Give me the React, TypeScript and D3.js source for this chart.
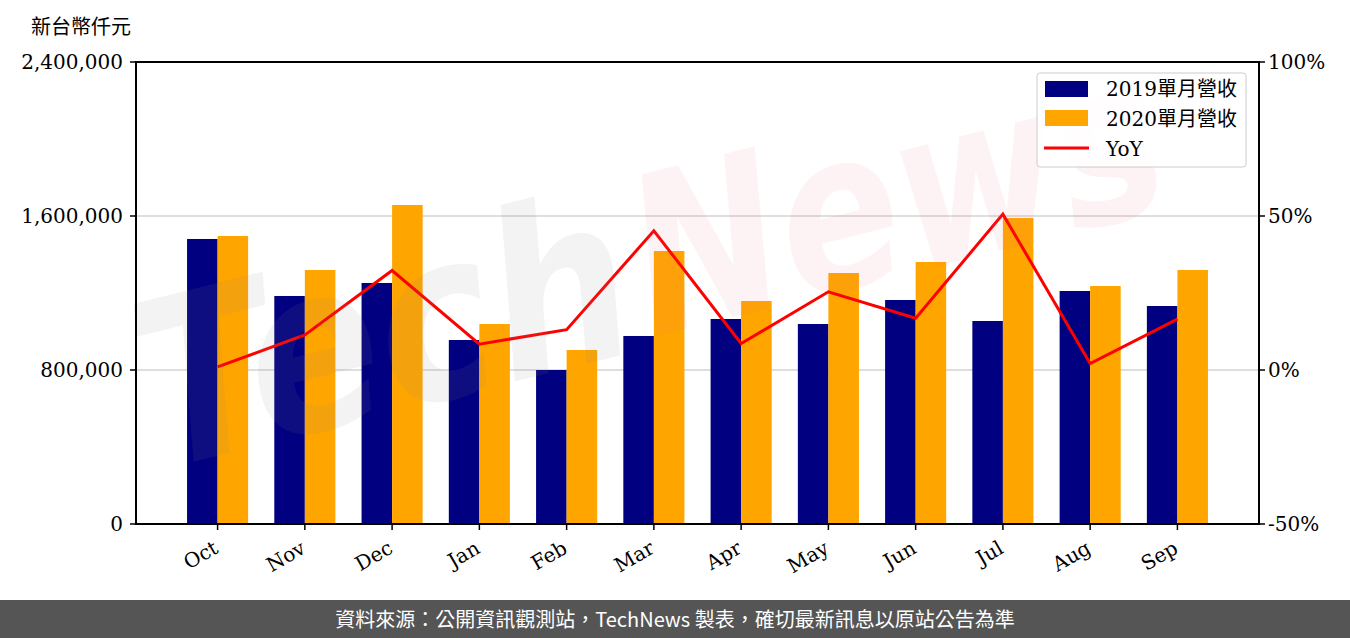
import React from "react";
import * as d3 from "d3";

const months = ["Oct", "Nov", "Dec", "Jan", "Feb", "Mar", "Apr", "May", "Jun", "Jul", "Aug", "Sep"];
const rev2019 = [1480600, 1184500, 1252000, 955900, 800000, 976700, 1065000, 1039000, 1163700, 1054600, 1210400, 1132500];
const rev2020 = [1496100, 1319500, 1657200, 1039000, 903900, 1418200, 1158500, 1303900, 1361100, 1589700, 1236400, 1319500];
const yoy = [1.0, 11.4, 32.3, 8.4, 13.1, 45.2, 8.6, 25.4, 16.8, 50.6, 2.1, 16.5];
const leftTicks = [0, 800000, 1600000, 2400000];
const rightTicks = [-50, 0, 50, 100];
const legendLabels = ["2019單月營收", "2020單月營收", "YoY"];

const W = 1350, H = 638;
const L = 136, R = 1259, T = 62, B = 524;
const serif = "'DejaVu Serif', 'Noto Sans CJK TC', serif";

export default function App() {
  const x = d3.scaleLinear().domain([-0.935, 11.935]).range([L, R]);
  const yL = d3.scaleLinear().domain([0, 2400000]).range([B, T]);
  const yR = d3.scaleLinear().domain([-50, 100]).range([B, T]);
  const bw = 0.35;
  const line = d3.line<number>().x((_, i) => x(i)).y((d) => yR(d));
  const fmt = d3.format(",");

  return (
    <svg width={W} height={H} style={{ position: "absolute", left: 0, top: 0, background: "#fff" }}>
      <text x={31} y={34} fontSize={20} fontFamily="'Noto Sans CJK TC', sans-serif" fill="#000">新台幣仟元</text>
      {/* grid */}
      {leftTicks.slice(1, 3).map((t) => (
        <line key={t} x1={L} x2={R} y1={yL(t)} y2={yL(t)} stroke="#d3d3d3" strokeWidth={1.5} />
      ))}
      {/* bars */}
      {rev2019.map((v, i) => (
        <rect key={"a" + i} x={x(i - bw)} width={x(i) - x(i - bw)} y={yL(v)} height={B - yL(v)} fill="#000080" />
      ))}
      {rev2020.map((v, i) => (
        <rect key={"b" + i} x={x(i)} width={x(i + bw) - x(i)} y={yL(v)} height={B - yL(v)} fill="#FFA500" />
      ))}
      <path d={line(yoy) || ""} fill="none" stroke="#ff0000" strokeWidth={3} />
      {/* watermark */}
      <g transform="translate(160,470) rotate(-14)">
        <text x={0} y={0} fontSize={230} fontStyle="italic" fontWeight="bold" fontFamily="'DejaVu Sans', sans-serif"
          textLength={500} lengthAdjust="spacingAndGlyphs" fill="#888" fillOpacity={0.1}>Tech</text>
        <text x={510} y={-10} fontSize={220} fontStyle="italic" fontWeight="bold" fontFamily="'DejaVu Sans', sans-serif"
          textLength={540} lengthAdjust="spacingAndGlyphs" fill="#e06070" fillOpacity={0.08}>News</text>
      </g>
      {/* axes */}
      <rect x={L} y={T} width={R - L} height={B - T} fill="none" stroke="#000" strokeWidth={2} />
      {leftTicks.map((t) => (
        <g key={"l" + t}>
          <line x1={L - 6} x2={L} y1={yL(t)} y2={yL(t)} stroke="#000" strokeWidth={1.5} />
          <text x={L - 13} y={yL(t)} dy="0.35em" textAnchor="end" fontSize={20} fontFamily={serif} fill="#000">{fmt(t)}</text>
        </g>
      ))}
      {rightTicks.map((t) => (
        <g key={"r" + t}>
          <line x1={R} x2={R + 6} y1={yR(t)} y2={yR(t)} stroke="#000" strokeWidth={1.5} />
          <text x={R + 9} y={yR(t)} dy="0.35em" textAnchor="start" fontSize={20} fontFamily={serif} fill="#000">{t + "%"}</text>
        </g>
      ))}
      {months.map((m, i) => (
        <g key={m}>
          <line x1={x(i)} x2={x(i)} y1={B} y2={B + 6} stroke="#000" strokeWidth={1.5} />
          <text transform={`translate(${x(i) + 2},${B + 28}) rotate(-30)`} textAnchor="end" fontSize={20} fontFamily={serif} fill="#000">{m}</text>
        </g>
      ))}
      {/* legend */}
      <rect x={1037} y={73} width={209} height={94} rx={3} fill="#fff" fillOpacity={0.8} stroke="#ccc" strokeWidth={1} />
      <rect x={1045} y={81} width={43} height={16} fill="#000080" />
      <rect x={1045} y={110} width={43} height={16} fill="#FFA500" />
      <line x1={1044} x2={1089} y1={148} y2={148} stroke="#ff0000" strokeWidth={3} />
      {legendLabels.map((s, i) => (
        <text key={s} x={1106} y={89 + i * 30} dy="0.35em" fontSize={20} fontFamily={serif} fill="#000">{s}</text>
      ))}
      {/* footer */}
      <rect x={0} y={600} width={W} height={38} fill="#555555" />
      <text x={675} y={620} dy="0.35em" textAnchor="middle" fontSize={20} fontFamily="'Noto Sans CJK TC', sans-serif" fill="#fff">
        資料來源：公開資訊觀測站，TechNews 製表，確切最新訊息以原站公告為準
      </text>
    </svg>
  );
}
